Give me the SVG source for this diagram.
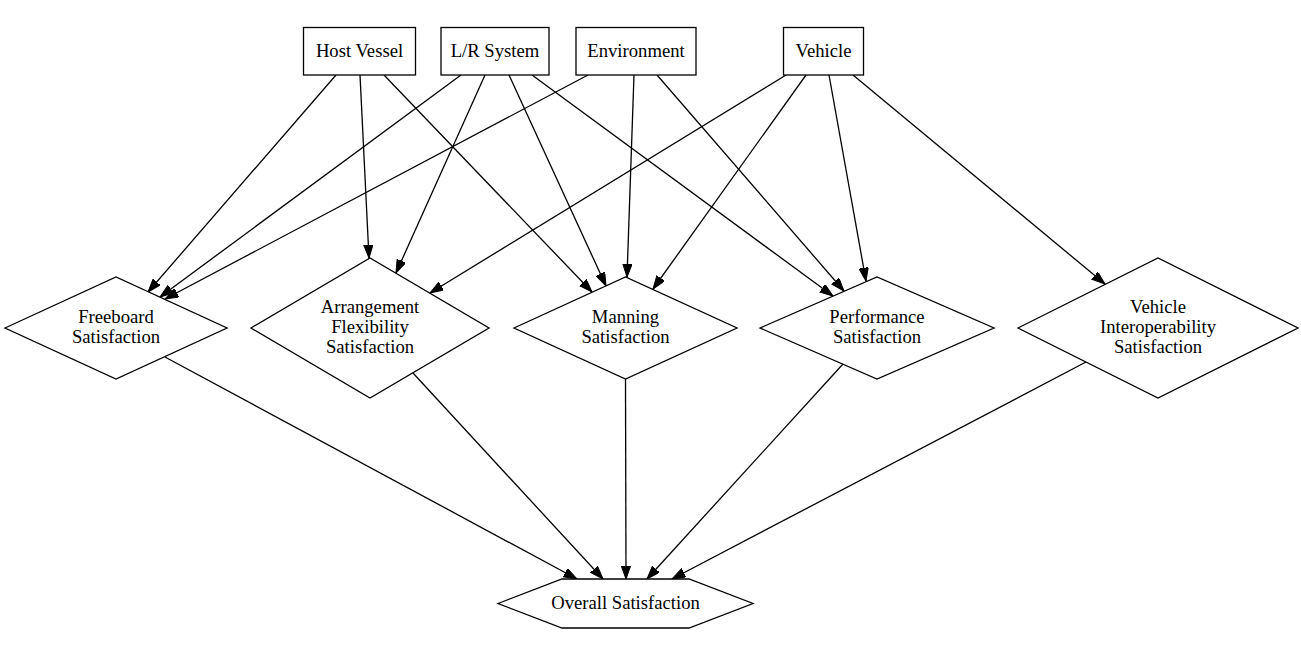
<svg xmlns="http://www.w3.org/2000/svg" width="1301" height="656" viewBox="0 0 1301 656">
<style>
.n{fill:#fff;stroke:#000;stroke-width:1.3}
.t{font-family:"Liberation Serif","Times New Roman",serif;font-size:18.67px;fill:#000;text-anchor:middle}
.e{stroke:#000;stroke-width:1.3;fill:none;marker-end:url(#ah)}
</style>
<defs>
<marker id="ah" markerUnits="userSpaceOnUse" markerWidth="14" markerHeight="10" refX="13.3" refY="4.7" orient="auto" viewBox="0 0 14 10">
<path d="M0,0 L13.3,4.7 L0,9.4 z" fill="#000" stroke="#000" stroke-width="1"/>
</marker>
</defs>
<rect width="1301" height="656" fill="#fff"/>
<g id="edges">
<line class="e" x1="336" y1="75" x2="148" y2="292"/>
<line class="e" x1="360" y1="75" x2="369" y2="258"/>
<line class="e" x1="384" y1="75" x2="592" y2="292"/>
<line class="e" x1="461" y1="75" x2="160" y2="297"/>
<line class="e" x1="485" y1="75" x2="396" y2="273"/>
<line class="e" x1="509" y1="75" x2="606" y2="286"/>
<line class="e" x1="532" y1="75" x2="833" y2="296"/>
<line class="e" x1="588" y1="75" x2="165" y2="299"/>
<line class="e" x1="634" y1="75" x2="627" y2="277"/>
<line class="e" x1="657" y1="75" x2="844" y2="291"/>
<line class="e" x1="786" y1="75" x2="430" y2="293"/>
<line class="e" x1="806" y1="75" x2="653" y2="289"/>
<line class="e" x1="829" y1="75" x2="866" y2="281"/>
<line class="e" x1="853" y1="75" x2="1105" y2="284"/>
<line class="e" x1="165" y1="357" x2="577" y2="579"/>
<line class="e" x1="413" y1="373" x2="603" y2="579"/>
<line class="e" x1="625.5" y1="379" x2="626" y2="579"/>
<line class="e" x1="843" y1="364" x2="647" y2="579"/>
<line class="e" x1="1086" y1="362" x2="672" y2="579"/>
</g>
<g id="host_vessel"><rect class="n" x="303.5" y="27.5" width="112" height="47.5"/><text class="t" x="359.5" y="57">Host Vessel</text></g>
<g id="lr_system"><rect class="n" x="441" y="27.5" width="108" height="47.5"/><text class="t" x="495" y="57">L/R System</text></g>
<g id="environment"><rect class="n" x="576" y="27.5" width="120" height="47.5"/><text class="t" x="636" y="57">Environment</text></g>
<g id="vehicle"><rect class="n" x="783.5" y="27.5" width="80" height="47.5"/><text class="t" x="823.5" y="57">Vehicle</text></g>
<g id="freeboard"><polygon class="n" points="5,328 116,277 227,328 116,379"/><text class="t" x="116" y="323">Freeboard</text><text class="t" x="116" y="343">Satisfaction</text></g>
<g id="arrangement"><polygon class="n" points="251,328 370,258 489,328 370,398"/><text class="t" x="370" y="313">Arrangement</text><text class="t" x="370" y="333">Flexibility</text><text class="t" x="370" y="353">Satisfaction</text></g>
<g id="manning"><polygon class="n" points="514,328 625.5,277 737,328 625.5,379"/><text class="t" x="625.5" y="323">Manning</text><text class="t" x="625.5" y="343">Satisfaction</text></g>
<g id="performance"><polygon class="n" points="760,328 877,277 994,328 877,379"/><text class="t" x="877" y="323">Performance</text><text class="t" x="877" y="343">Satisfaction</text></g>
<g id="vehicle_interop"><polygon class="n" points="1018,328 1158,258 1298,328 1158,398"/><text class="t" x="1158" y="313">Vehicle</text><text class="t" x="1158" y="333">Interoperability</text><text class="t" x="1158" y="353">Satisfaction</text></g>
<g id="overall"><polygon class="n" points="498,603.5 562,579 689,579 753,603.5 689,628 562,628"/><text class="t" x="625.5" y="609">Overall Satisfaction</text></g>
</svg>
